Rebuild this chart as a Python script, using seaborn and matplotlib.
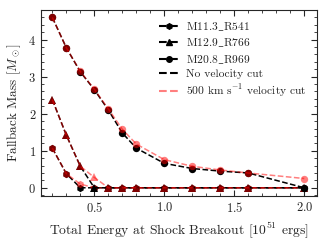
import matplotlib
matplotlib.use("Agg")
import matplotlib.pyplot as plt
from matplotlib.lines import Line2D
from matplotlib.ticker import MultipleLocator
import seaborn as sns
import pandas as pd

# energies [1e51 erg]
energy = [0.2, 0.3, 0.4, 0.5, 0.6, 0.7, 0.8, 1.0, 1.2, 1.4, 1.6, 2.0]

# fallback mass, no velocity cut
m11_all = [1.07, 0.38, 0.0, 0.0, 0.0, 0.0, 0.0, 0.0, 0.0, 0.0, 0.0, 0.0]
m12_all = [2.38, 1.42, 0.58, 0.0, 0.0, 0.0, 0.0, 0.0, 0.0, 0.0, 0.0, 0.0]
m20_all = [4.60, 3.78, 3.13, 2.65, 2.10, 1.48, 1.07, 0.66, 0.52, 0.45, 0.40, 0.0]

# fallback mass, 500 km/s velocity cut
m11_cut = [1.07, 0.38, 0.10, 0.0, 0.0, 0.0, 0.0, 0.0, 0.0, 0.0, 0.0, 0.0]
m12_cut = [2.38, 1.42, 0.58, 0.28, 0.0, 0.0, 0.0, 0.0, 0.0, 0.0, 0.0, 0.0]
m20_cut = [4.60, 3.78, 3.14, 2.66, 2.13, 1.58, 1.18, 0.76, 0.58, 0.48, 0.40, 0.25]

models = [r"M11.3$\_$R541", r"M12.9$\_$R766", r"M20.8$\_$R969"]
markers = ["h", "^", "o"]

sns.set_style("ticks")
plt.rcParams["font.family"] = ["cmr10", "DejaVu Serif"]
plt.rcParams["mathtext.fontset"] = "cm"
plt.rcParams["axes.formatter.use_mathtext"] = True
plt.rcParams["font.size"] = 9

fig = plt.figure(figsize=(3.28, 2.44), dpi=100)
ax = fig.add_axes([0.125, 0.197, 0.841, 0.762])

for mk, y_all, y_cut in zip(markers, [m11_all, m12_all, m20_all], [m11_cut, m12_cut, m20_cut]):
    df = pd.DataFrame({"E": energy, "all": y_all, "cut": y_cut})
    sns.lineplot(data=df, x="E", y="all", ax=ax, color="black", linestyle="--", marker=mk,
                 markersize=5.3, markeredgewidth=0, linewidth=1.1)
    sns.lineplot(data=df, x="E", y="cut", ax=ax, color="red", alpha=0.5, linestyle="--", marker=mk,
                 markersize=5.3, markeredgewidth=0, linewidth=1.1)

ax.set_xlim(0.119, 2.09)
ax.set_ylim(-0.22, 4.8)
ax.xaxis.set_major_locator(MultipleLocator(0.5))
ax.xaxis.set_minor_locator(MultipleLocator(0.1))
ax.yaxis.set_major_locator(MultipleLocator(1))
ax.yaxis.set_minor_locator(MultipleLocator(0.2))
ax.tick_params(which="both", direction="in", top=True, right=True, labelsize=9)
ax.tick_params(which="major", length=4)
ax.tick_params(which="minor", length=2)
ax.set_xlabel(r"Total Energy at Shock Breakout [$10^{51}$ ergs]", fontsize=9.8)
ax.set_ylabel(r"Fallback Mass [$M_\odot$]", fontsize=9.5)

handles = [Line2D([], [], color="black", linestyle="--", marker=m, markersize=4) for m in markers]
handles.append(Line2D([], [], color="black", linestyle="--"))
handles.append(Line2D([], [], color="red", alpha=0.5, linestyle="--"))
labels = models + ["No velocity cut", r"500 km s$^{-1}$ velocity cut"]
ax.legend(handles, labels, loc="upper right", frameon=False, fontsize=8.3, handlelength=1.6,
          handletextpad=0.7, labelspacing=0.3, borderaxespad=0.5)

fig.savefig("out.png", dpi=100)
